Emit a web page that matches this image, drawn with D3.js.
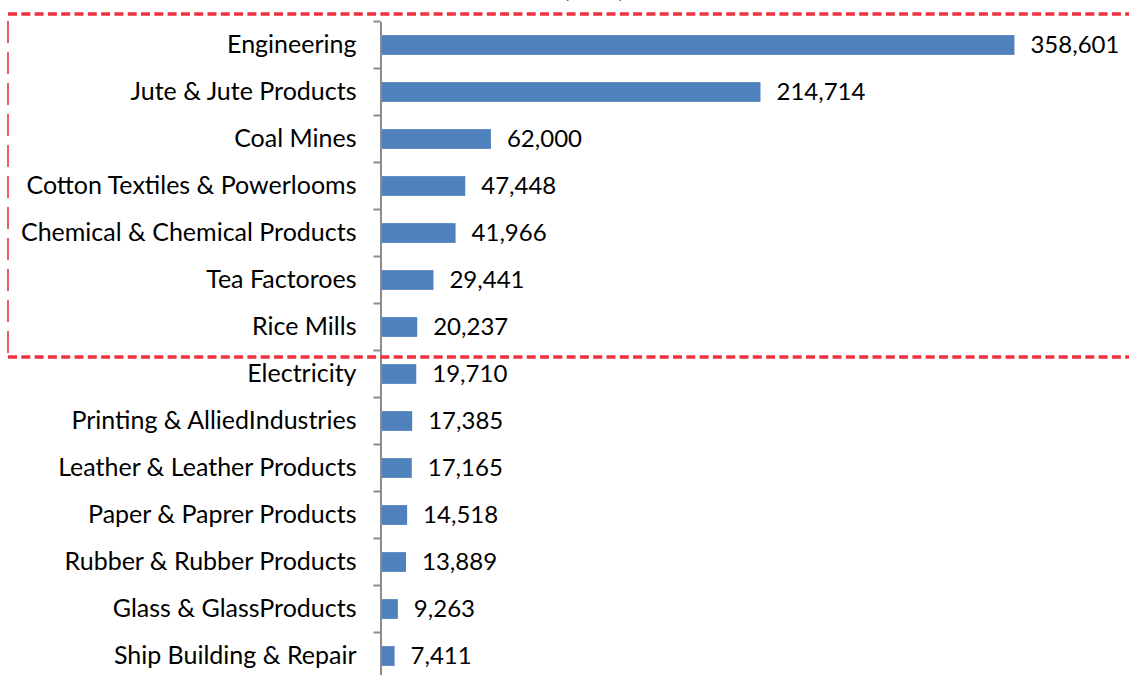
<!DOCTYPE html>
<html>
<head>
<meta charset="utf-8">
<script src="https://cdn.jsdelivr.net/npm/d3@7/dist/d3.min.js"></script>
<style>
  html, body { margin: 0; padding: 0; background: #ffffff; }
  svg { display: block; }
  text { font-family: Lato, "Open Sans", sans-serif; fill: #000; }
</style>
</head>
<body>
<svg id="chart" width="1129" height="675"></svg>
<script>
// Employment by industry
const categories = [
  "Engineering",
  "Jute & Jute Products",
  "Coal Mines",
  "Cotton Textiles & Powerlooms",
  "Chemical & Chemical Products",
  "Tea Factoroes",
  "Rice Mills",
  "Electricity",
  "Printing & AlliedIndustries",
  "Leather & Leather Products",
  "Paper & Paprer Products",
  "Rubber & Rubber Products",
  "Glass & GlassProducts",
  "Ship Building & Repair"
];
const values = [358601, 214714, 62000, 47448, 41966, 29441, 20237,
                19710, 17385, 17165, 14518, 13889, 9263, 7411];
// the leading group of industries highlighted by the dashed frame
const highlighted = categories.slice(0, 7);

const W = 1129, H = 675;
const axisX = 380.5;
const plotTop = 21.5, step = 47;

const svg = d3.select("#chart");

const y = d3.scaleBand()
  .domain(categories)
  .range([plotTop, plotTop + step * categories.length])
  .paddingInner(0.58)
  .paddingOuter(0.29);

const x = d3.scaleLinear()
  .domain([0, 400000])
  .range([axisX + 1, axisX + 1 + 706]);

const fmt = d3.format(",");

// title (its second line sits just past the top edge)
svg.append("text")
  .attr("x", 594)
  .attr("y", -3)
  .attr("text-anchor", "middle")
  .style("font-size", "24px")
  .style("font-weight", "bold")
  .text("(Nos.)");

// bars
svg.append("g")
  .selectAll("rect")
  .data(categories)
  .join("rect")
  .attr("x", x(0))
  .attr("y", d => y(d))
  .attr("height", y.bandwidth())
  .attr("width", (d, i) => x(values[i]) - x(0))
  .attr("fill", "#4f81bd");

// value labels
svg.append("g")
  .selectAll("text")
  .data(categories)
  .join("text")
  .attr("x", (d, i) => x(values[i]) + 16)
  .attr("y", d => y(d) + y.bandwidth() / 2)
  .attr("dy", "0.32em")
  .style("font-size", "24px")
  .text((d, i) => fmt(values[i]));

// category axis
const axis = d3.axisLeft(y).tickSize(0).tickPadding(24);
const gAxis = svg.append("g")
  .attr("transform", `translate(${axisX},0)`)
  .call(axis);
gAxis.select(".domain")
  .attr("stroke", "#8c8c8c")
  .attr("stroke-width", 2);
gAxis.selectAll(".tick text")
  .attr("dy", "0.3em")
  .style("font-size", "25px")
  .style("font-family", "Lato, 'Open Sans', sans-serif")
  .attr("fill", "#000");

// tick marks between categories
const pad = y.step() * y.paddingInner() / 2;
const boundaries = categories.map(c => y(c) - pad)
  .concat([y(categories[categories.length - 1]) + y.bandwidth() + pad]);
svg.append("g")
  .selectAll("line")
  .data(boundaries)
  .join("line")
  .attr("x1", axisX - 7)
  .attr("x2", axisX)
  .attr("y1", d => d)
  .attr("y2", d => d)
  .attr("stroke", "#8c8c8c")
  .attr("stroke-width", 2);

// dashed frame around the highlighted group
const frameTop = y(highlighted[0]) - pad - 7.5;
const frameBottom = y(highlighted[highlighted.length - 1]) + y.bandwidth() + pad + 6.5;
const frameLeft = 8;
const red = "#f0323f";

svg.append("line")
  .attr("x1", frameLeft).attr("x2", W + 5)
  .attr("y1", frameTop).attr("y2", frameTop)
  .attr("stroke", red).attr("stroke-width", 3.5)
  .attr("stroke-dasharray", "9 4.3");
svg.append("line")
  .attr("x1", frameLeft).attr("x2", W + 5)
  .attr("y1", frameBottom).attr("y2", frameBottom)
  .attr("stroke", red).attr("stroke-width", 3.5)
  .attr("stroke-dasharray", "9 4.3");
svg.append("line")
  .attr("x1", frameLeft).attr("x2", frameLeft)
  .attr("y1", frameTop + 7).attr("y2", frameBottom - 4)
  .attr("stroke", red).attr("stroke-width", 1.6)
  .attr("stroke-dasharray", "22 9");
</script>
</body>
</html>
